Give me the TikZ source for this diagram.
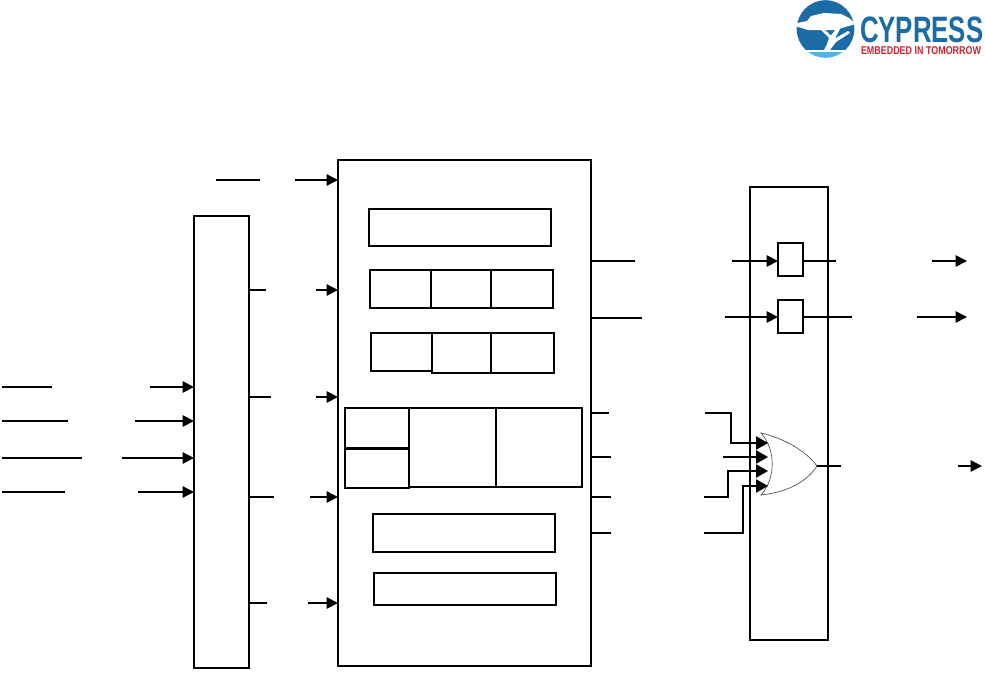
\documentclass[tikz,border=0pt]{standalone}
\usepackage{fontspec}
\usepackage{graphicx}
\setmainfont{Liberation Sans}
\usetikzlibrary{arrows.meta}
\definecolor{cyblue}{HTML}{1B6BA6}
\definecolor{cylight}{HTML}{4FB4E6}
\definecolor{cyred}{HTML}{C8242F}
\newcommand{\bx}[6][boxn]{%
  \pgfmathsetmacro{\bxw}{(#5-#3)*0.75}%
  \pgfmathsetmacro{\bxh}{(#6-#4)*0.75}%
  \pgfmathsetmacro{\bxcx}{(#5+#3)/2}%
  \pgfmathsetmacro{\bxcy}{(#6+#4)/2}%
  \node[#1,minimum width=\bxw pt,minimum height=\bxh pt] (#2) at (\bxcx,\bxcy) {};}
\tikzset{
  x=0.75pt,y=-0.75pt,
  boxn/.style={draw=black,line width=1.15pt,inner sep=0pt,outer sep=0pt,fill=none},
  wire/.style={draw=black,line width=1.15pt},
  arrowwire/.style={wire,-{Triangle[length=8.5pt,width=8.5pt]}},
  gatewire/.style={wire,-{Triangle[length=9pt,width=10pt]}},
  gateline/.style={draw=black!75,line width=0.45pt,fill=white},
}
\begin{document}
\begin{tikzpicture}
\useasboundingbox (0,0) rectangle (985,672);

% main blocks
\bx{main}{338}{160}{591}{666}
\bx{left}{194}{216}{249}{668}
\bx{right}{750}{187}{828}{640}

% inner boxes
\bx{b1}{369}{209}{551}{246}
\bx{r1a}{370}{270}{431}{308}
\bx{r1b}{431}{270}{491}{308}
\bx{r1c}{491}{270}{553}{308}
\bx{r2a}{371}{333}{432}{371}
\bx{r2b}{432}{333}{491}{373}
\bx{r2c}{491}{333}{554}{373}
\bx{s1}{345}{408}{409}{448}
\bx{s2}{345}{449}{409}{488}
\bx{s3}{409}{408}{496}{487}
\bx{s4}{496}{408}{582}{487}
\bx{b5}{373}{514}{555}{552}
\bx{b6}{374}{573}{556}{605}

% small buffers
\bx{ff1}{778}{243}{803}{276}
\bx{ff2}{778}{300}{803}{333}

% OR gate
\coordinate (gt) at (761,433);
\coordinate (gb) at (761,495);
\coordinate (gr) at (817,466);
\path[gateline] (gt) .. controls (790,440) and (808,454) .. (gr)
  .. controls (808,480) and (790,492) .. (gb)
  .. controls (776,478) and (776,450) .. (gt) -- cycle;

% top input
\coordinate (t1) at (216,180); \coordinate (t2) at (260,180); \coordinate (t3) at (295,180);
\draw[wire] (t1) -- (t2);
\draw[arrowwire] (t3) -- (t3 -| main.west);

% left inputs
\coordinate (a1) at (2,387);  \coordinate (a2) at (52,387);  \coordinate (a3) at (150,387);
\coordinate (c1) at (2,421);  \coordinate (c2) at (68,421);  \coordinate (c3) at (135,421);
\coordinate (d1) at (2,458);  \coordinate (d2) at (82,458);  \coordinate (d3) at (122,458);
\coordinate (e1) at (2,492);  \coordinate (e2) at (65,492);  \coordinate (e3) at (138,492);
\draw[wire] (a1) -- (a2); \draw[arrowwire] (a3) -- (a3 -| left.west);
\draw[wire] (c1) -- (c2); \draw[arrowwire] (c3) -- (c3 -| left.west);
\draw[wire] (d1) -- (d2); \draw[arrowwire] (d3) -- (d3 -| left.west);
\draw[wire] (e1) -- (e2); \draw[arrowwire] (e3) -- (e3 -| left.west);

% left to main
\coordinate (f1) at (266,290); \coordinate (f2) at (316,290);
\coordinate (g1) at (271,397); \coordinate (g2) at (316,397);
\coordinate (h1) at (274,497); \coordinate (h2) at (310,497);
\coordinate (i1) at (267,603); \coordinate (i2) at (308,603);
\draw[wire] (f1 -| left.east) -- (f1); \draw[arrowwire] (f2) -- (f2 -| main.west);
\draw[wire] (g1 -| left.east) -- (g1); \draw[arrowwire] (g2) -- (g2 -| main.west);
\draw[wire] (h1 -| left.east) -- (h1); \draw[arrowwire] (h2) -- (h2 -| main.west);
\draw[wire] (i1 -| left.east) -- (i1); \draw[arrowwire] (i2) -- (i2 -| main.west);

% main to buffers
\coordinate (j1) at (635,261); \coordinate (j2) at (732,261);
\coordinate (k1) at (642,318); \coordinate (k2) at (725,317);
\draw[wire] (j1 -| main.east) -- (j1); \draw[arrowwire] (j2) -- (j2 -| ff1.west);
\draw[wire] (k1 -| main.east) -- (k1); \draw[arrowwire] (k2) -- (k2 -| ff2.west);

% buffers to outputs
\coordinate (l1) at (836,261); \coordinate (l2) at (932,261); \coordinate (l3) at (967,261);
\coordinate (m1) at (852,317); \coordinate (m2) at (917,317); \coordinate (m3) at (967,317);
\draw[wire] (l1 -| ff1.east) -- (l1); \draw[arrowwire] (l2) -- (l3);
\draw[wire] (m1 -| ff2.east) -- (m1); \draw[arrowwire] (m2) -- (m3);

% main to OR gate
\coordinate (n1) at (609,413); \coordinate (n2) at (705,413); \coordinate (n3) at (731,443); \coordinate (n4) at (768,443);
\coordinate (o1) at (611,457); \coordinate (o2) at (723,457); \coordinate (o4) at (768,457);
\coordinate (p1) at (611,497); \coordinate (p2) at (704,497); \coordinate (p3) at (728,471); \coordinate (p4) at (768,471);
\coordinate (q1) at (611,533); \coordinate (q2) at (704,533); \coordinate (q3) at (743,486); \coordinate (q4) at (768,486);
\draw[wire] (n1 -| main.east) -- (n1);
\draw[wire] (o1 -| main.east) -- (o1);
\draw[wire] (p1 -| main.east) -- (p1);
\draw[wire] (q1 -| main.east) -- (q1);
\draw[gatewire] (n2) -| (n3) -- (n4);
\draw[gatewire] (o2) -- (o4);
\draw[gatewire] (p2) -| (p3) -- (p4);
\draw[gatewire] (q2) -| (q3) -- (q4);

% OR output
\coordinate (r1) at (841,466); \coordinate (r2) at (958,466); \coordinate (r3) at (982,466);
\draw[wire] (gr) -- (r1); \draw[arrowwire] (r2) -- (r3);

% logo
\coordinate (lg) at (825.5,29);
\begin{scope}
  \clip (lg) circle[radius=28.8];
  \fill[cyblue] (790,0) rectangle (860,50);
  \fill[white] (790,50) rectangle (860,52);
  \fill[cylight] (790,52) rectangle (860,60);
  \fill[white] (795,23.5) -- (807,21) -- (811,16) -- (824,13) -- (841,14) -- (849,18)
    -- (856,24) -- (845,27) -- (836,30) -- (820,30) -- (808,30) -- (795,26) -- cycle;
  \fill[white] (824,50) -- (827,44) -- (829,38) -- (820,29) -- (824,29) -- (831,35.5)
    -- (836,29) -- (840,29) -- (835,38.5) -- (848,31) -- (850,33) -- (836,42) -- (830,50) -- cycle;
\end{scope}
\node[inner sep=0pt,outer sep=0pt,anchor=west,text=cyblue] (logoname) at (860,30)
  {\resizebox*{92.5pt}{19.5pt}{\bfseries CYPRESS}};
\node[inner sep=0pt,outer sep=0pt,anchor=west,text=cyred] (logotag) at (861,51)
  {\resizebox*{90pt}{6pt}{\bfseries EMBEDDED IN TOMORROW}};
\end{tikzpicture}
\end{document}
